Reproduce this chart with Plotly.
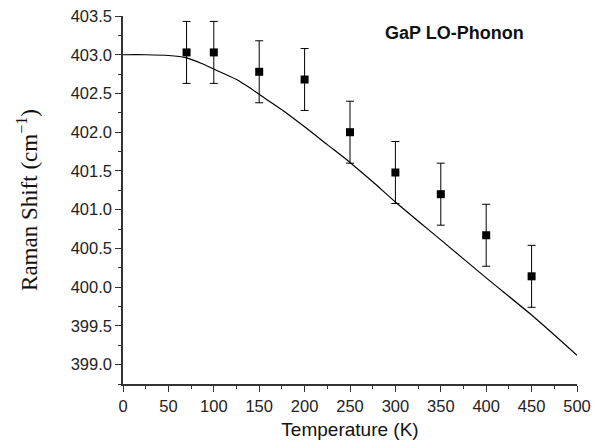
import plotly.graph_objects as go

temp = [70, 100, 150, 200, 250, 300, 350, 400, 450]
shift = [403.03, 403.03, 402.78, 402.68, 402.00, 401.48, 401.20, 400.67, 400.14]
err = [0.40, 0.40, 0.40, 0.40, 0.40, 0.40, 0.40, 0.40, 0.40]

fit_t = [0, 25, 50, 70, 88, 101, 125, 140, 151, 175, 200, 225, 250, 275, 300, 350, 400, 450, 500]
fit_w = [403.00, 403.00, 402.99, 402.96, 402.88, 402.81, 402.68, 402.57, 402.48, 402.29,
         402.07, 401.84, 401.61, 401.36, 401.10, 400.61, 400.12, 399.64, 399.12]

y_ticks = [399.0, 399.5, 400.0, 400.5, 401.0, 401.5, 402.0, 402.5, 403.0, 403.5]
x_ticks = [0, 50, 100, 150, 200, 250, 300, 350, 400, 450, 500]

fig = go.Figure()
fig.add_trace(go.Scatter(x=fit_t, y=fit_w, mode="lines",
                         line=dict(color="black", width=1.2, shape="spline", smoothing=0.8),
                         showlegend=False))
fig.add_trace(go.Scatter(x=temp, y=shift, mode="markers",
                         marker=dict(symbol="square", size=8, color="black"),
                         error_y=dict(type="data", array=err, color="black",
                                      thickness=1, width=4),
                         showlegend=False))

sans = "Liberation Sans, Arial, sans-serif"
axis_font = dict(family=sans, size=16.5, color="#222")
fig.update_layout(
    template="none",
    width=595, height=448,
    margin=dict(l=123, r=18, t=16, b=64),
    paper_bgcolor="white", plot_bgcolor="white",
    xaxis=dict(range=[0, 500], tickvals=x_ticks, automargin=False,
               ticks="outside", ticklen=6, tickwidth=1.2, tickcolor="#333",
               showline=True, linecolor="#333", linewidth=1.5,
               showgrid=False, zeroline=False, tickfont=axis_font,
               minor=dict(dtick=25, ticks="outside", ticklen=3, tickcolor="#333", showgrid=False),
               title=dict(text="Temperature (K)", font=dict(family=sans, size=19, color="#111"),
                          standoff=9)),
    yaxis=dict(range=[398.75, 403.5], tickvals=y_ticks, automargin=False,
               ticktext=[f"{v:.1f}" for v in y_ticks],
               ticks="outside", ticklen=6, tickwidth=1.2, tickcolor="#333",
               showline=True, linecolor="#333", linewidth=1.5,
               showgrid=False, zeroline=False, tickfont=axis_font,
               minor=dict(dtick=0.25, tick0=399.0, ticks="outside", ticklen=3, tickcolor="#333", showgrid=False),
               title=dict(text="Raman Shift (cm<sup>−1</sup>)",
                          font=dict(family="Liberation Serif, Times New Roman, serif", size=23, color="#111"),
                          standoff=27)),
    annotations=[dict(text="<b>GaP LO-Phonon</b>", x=0.730, y=0.954, xref="paper", yref="paper",
                      xanchor="center", yanchor="middle",
                      showarrow=False, font=dict(family=sans, size=18, color="#111"))],
)

fig.write_html("out.html", config={"displayModeBar": False},
               post_script="document.body.style.margin='0';document.body.style.overflow='hidden';")
